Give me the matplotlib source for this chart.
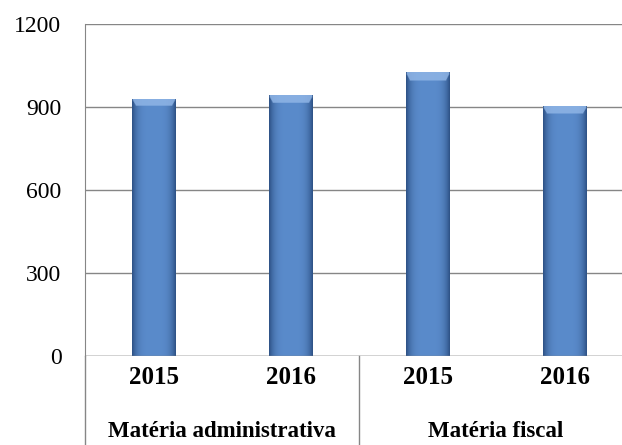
import matplotlib.pyplot as plt
import numpy as np
from matplotlib.colors import to_rgb
from matplotlib.lines import Line2D

years = ['2015', '2016', '2015', '2016']
groups = ['Matéria administrativa', 'Matéria fiscal']
values = [930, 942, 1025, 903]

plt.rcParams['font.family'] = ['Liberation Serif', 'DejaVu Serif']

fig = plt.figure(figsize=(6.22, 4.45), dpi=100)
ax = fig.add_axes([0.1367, 0.2, 0.881, 0.746])

x = np.arange(len(values))
bars = ax.bar(x, values, 0.32, color='#4F81BD', edgecolor='none', zorder=2)

# shaded look for each bar: darker sides, lighter bevel at the top
side = np.array(to_rgb('#2E5286'))
mid = np.array(to_rgb('#5A8BCB'))
cap = np.array(to_rgb('#8FB5E6'))
nx, ny = 60, 200
u = np.linspace(-1, 1, nx)
prof = np.clip(np.abs(u) ** 4, 0, 1)
for b in bars:
    h = b.get_height()
    capfrac = 26 / h
    img = np.zeros((ny, nx, 3))
    for j in range(ny):
        yy = 1 - j / (ny - 1)  # 1 at top
        for i in range(nx):
            c = mid * (1 - prof[i]) + side * prof[i]
            if yy > 1 - capfrac and (1 - yy) / capfrac < min(1, (1 - abs(u[i])) * 6):
                c = cap * 0.85 + c * 0.15
            img[j, i] = c
    im = ax.imshow(img, extent=[b.get_x(), b.get_x() + b.get_width(), 0, h],
                   aspect='auto', zorder=3, interpolation='bilinear')
    im.set_clip_path(b)

ax.set_xlim(-0.5, len(values) - 0.5)
ax.set_ylim(0, 1200)
ax.set_yticks([0, 300, 600, 900, 1200])
ax.yaxis.grid(True, color='#868686', linewidth=1, zorder=0)
ax.set_axisbelow(True)
for s in ['top', 'right', 'bottom']:
    ax.spines[s].set_visible(False)
ax.spines['left'].set_color('#868686')
ax.tick_params(axis='y', length=0, labelsize=17, pad=17)
ax.tick_params(axis='x', length=0)
ax.set_xticks([])
ax.axhline(0, color='#868686', linewidth=1, zorder=4)

for xi, yr in zip(x, years):
    ax.text(xi, -0.066, yr, transform=ax.get_xaxis_transform(), ha='center',
            va='center', fontsize=18, fontweight='bold')
for gi, g in enumerate(groups):
    ax.text(gi * 2 + 0.5, -0.226, g, transform=ax.get_xaxis_transform(),
            ha='center', va='center', fontsize=16.5, fontweight='bold')

for xs in [-0.5, 1.5]:
    ax.add_line(Line2D([xs, xs], [0, -0.3], transform=ax.get_xaxis_transform(),
                       color='#868686', linewidth=1, clip_on=False))

fig.savefig('out.png', dpi=100)
